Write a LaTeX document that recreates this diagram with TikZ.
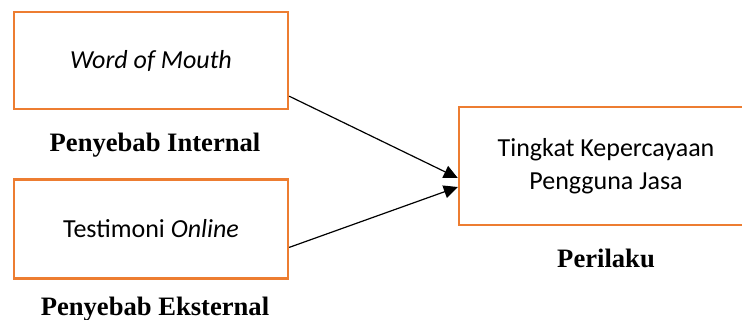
\documentclass[tikz,border=0pt]{standalone}
\usepackage{fontspec}
\setmainfont{Liberation Serif}
\newfontfamily\boxfont{Carlito}
\usetikzlibrary{arrows.meta, positioning}
\definecolor{boxorange}{RGB}{237,125,49}
\tikzset{
    factor/.style={draw=boxorange, line width=1.2pt, rectangle, align=center, font=\boxfont\fontsize{13}{16.5}\selectfont},
    caption/.style={inner sep=0pt, font=\bfseries\fontsize{13.3}{16}\selectfont},
    arrow/.style={-{Triangle[length=7pt, width=6.5pt]}, line width=0.6pt, color=black}
}

\begin{document}
\begin{tikzpicture}[x=0.5pt, y=-0.5pt]
    \useasboundingbox (0,0) rectangle (742,320);

    % Left side: causes
    \node[factor, minimum width=137pt, minimum height=48.5pt] (wom) at (151,60.5) {\textit{Word of Mouth}};
    \node[caption, below=11pt of wom, xshift=2pt] (internal) {Penyebab Internal};

    \node[factor, minimum width=137pt, minimum height=49.5pt, below=34pt of wom] (testi) {Testimoni \textit{Online}};
    \node[caption, below=8.5pt of testi, xshift=2pt] (external) {Penyebab Eksternal};

    % Right side: behaviour
    \node[factor, minimum width=147pt, minimum height=59pt] (trust) at (606,166) {Tingkat Kepercayaan\\Pengguna Jasa};
    \node[caption, below=11pt of trust] (behaviour) {Perilaku};

    % Arrows
    \draw[arrow] ([yshift=7pt]wom.south east) -- ([yshift=-6pt]trust.west);
    \draw[arrow] ([yshift=-9.25pt]testi.east) -- ([yshift=-10.5pt]trust.west);

\end{tikzpicture}
\end{document}
